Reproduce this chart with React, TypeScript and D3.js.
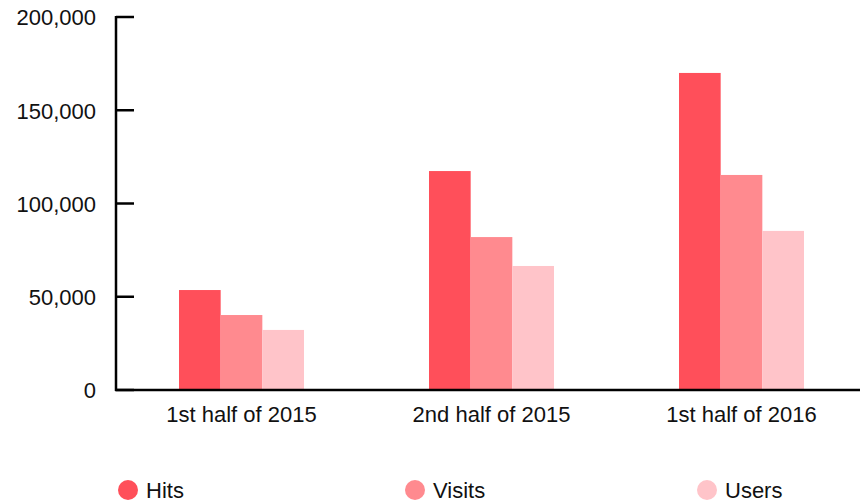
import * as d3 from 'd3';

const categories = ['1st half of 2015', '2nd half of 2015', '1st half of 2016'];
const seriesNames = ['Hits', 'Visits', 'Users'];
const hits = [53600, 117400, 170000];
const visits = [40200, 82000, 115300];
const users = [32200, 66500, 85300];
const yTicks = [0, 50000, 100000, 150000, 200000];
const colors = ['#ff4f5a', '#ff8a8f', '#ffc4c9'];

const W = 860;
const H = 500;
const left = 116;
const top = 17;
const bottom = 390;

export default function App() {
  const values = [hits, visits, users];

  const x0 = d3
    .scaleBand()
    .domain(categories)
    .range([left + 0.5, left + 750.5])
    .paddingInner(0.5)
    .paddingOuter(0.25);

  const x1 = d3.scaleBand().domain(seriesNames).range([0, x0.bandwidth()]);

  const y = d3.scaleLinear().domain([0, 200000]).range([bottom, top]);

  const fmt = d3.format(',');
  const legendX = [128, 415, 707];
  const font = "'Liberation Sans', Arial, sans-serif";

  return (
    <svg
      width={W}
      height={H}
      style={{ position: 'absolute', left: 0, top: 0, fontFamily: font }}>
      {/* bars */}
      {categories.map((cat, i) => (
        <g key={cat} transform={`translate(${x0(cat)},0)`}>
          {seriesNames.map((s, j) => (
            <rect
              key={s}
              x={x1(s)}
              y={y(values[j][i])}
              width={x1.bandwidth()}
              height={bottom - y(values[j][i])}
              fill={colors[j]}
            />
          ))}
        </g>
      ))}

      {/* y axis */}
      <line x1={left} x2={left} y1={top - 1} y2={bottom + 1} stroke='#000' strokeWidth={2.5} />
      {yTicks.map((t) => (
        <g key={t} transform={`translate(0,${y(t)})`}>
          <line x1={left} x2={left + 18} stroke='#000' strokeWidth={2.5} />
          <text x={96} dy='0.38em' textAnchor='end' fontSize={22} fill='#111'>
            {fmt(t)}
          </text>
        </g>
      ))}

      {/* x axis */}
      <line x1={left - 1} x2={W} y1={bottom} y2={bottom} stroke='#000' strokeWidth={2.5} />
      {categories.map((cat) => (
        <text
          key={cat}
          x={(x0(cat) as number) + x0.bandwidth() / 2}
          y={422}
          textAnchor='middle'
          fontSize={22}
          fill='#111'>
          {cat}
        </text>
      ))}

      {/* legend */}
      {seriesNames.map((s, j) => (
        <g key={s} transform={`translate(${legendX[j]},490)`}>
          <circle r={10} fill={colors[j]} />
          <text x={18} dy='0.35em' fontSize={22} fill='#111'>
            {s}
          </text>
        </g>
      ))}
    </svg>
  );
}
